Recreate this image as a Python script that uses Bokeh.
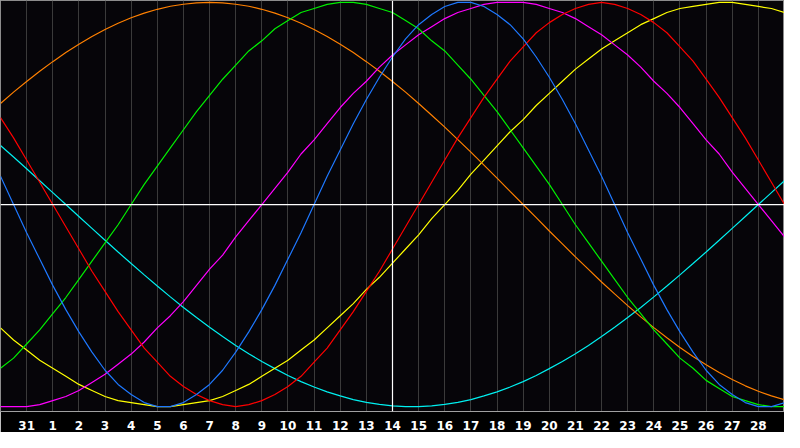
import numpy as np
from bokeh.plotting import figure
from bokeh.models import Span, FixedTicker
from bokeh.embed import file_html
from bokeh.resources import INLINE

# day positions (half-day steps from the left edge, day index 0 = the 30th of the previous month)
days = np.arange(0, 30.5, 0.5)

# tick positions and labels (one tick per day, index 1..29)
tick_pos = list(range(1, 30))
tick_labels = ["31"] + [str(d) for d in range(1, 29)]

# series values (-1 .. 1)
blue = [.14,0,-.14,-.27,-.4,-.52,-.63,-.73,-.82,-.89,-.94,-.98,-1,-1,-.98,-.94,-.89,-.82,-.73,-.63,-.52,-.4,-.27,-.14,0,.14,.27,.4,.52,.63,.73,.82,.89,.94,.98,1,
        1,.98,.94,.89,.82,.73,.63,.52,.4,.27,.14,0,-.14,-.27,-.4,-.52,-.63,-.73,-.82,-.89,-.94,-.98,-1,-1,-.98]
red = [.43,.33,.22,.11,0,-.11,-.22,-.33,-.43,-.53,-.62,-.71,-.78,-.85,-.9,-.94,-.97,-.99,-1,-.99,-.97,-.94,-.9,-.85,-.78,-.71,-.62,-.53,-.43,-.33,-.22,-.11,0,.11,.22,.33,.43,.53,.62,.71,.78,.85,.9,.94,.97,.99,1,.99,.97,.94,.9,.85,.78,.71,.62,.53,.43,.33,.22,.11,0]
green = [-.81,-.76,-.69,-.62,-.54,-.46,-.37,-.28,-.19,-.1,0,.1,.19,.28,.37,.46,.54,.62,.69,.76,.81,.87,.91,.95,.97,.99,1,1,.99,.97,.95,.91,.87,.81,.76,.69,.62,.54,.46,.37,.28,.19,.1,0,-.1,-.19,-.28,-.37,-.46,-.54,-.62,-.69,-.76,-.81,-.87,-.91,-.95,-.97,-.99,-1,-1]
magenta = [-1,-1,-1,-.99,-.97,-.95,-.92,-.88,-.84,-.79,-.74,-.68,-.61,-.55,-.48,-.4,-.32,-.25,-.16,-.08,0,.08,.16,.25,.32,.4,.48,.55,.61,.68,.74,.79,.84,.88,.92,.95,.97,.99,1,1,1,.99,.97,.95,.92,.88,.84,.79,.74,.68,.61,.55,.48,.4,.32,.25,.16,.08,0,-.08,-.16]
yellow = [-.61,-.67,-.72,-.77,-.81,-.85,-.89,-.92,-.95,-.97,-.98,-.99,-1,-1,-.99,-.98,-.97,-.95,-.92,-.89,-.85,-.81,-.77,-.72,-.67,-.61,-.55,-.49,-.42,-.36,-.29,-.22,-.15,-.07,0,.07,.15,.22,.29,.36,.42,.49,.55,.61,.67,.72,.77,.81,.85,.89,.92,.95,.97,.98,.99,1,1,.99,.98,.97,.95]
orange = [0.5,0.556,0.609,0.659,0.707,0.752,0.793,0.831,0.866,0.897,0.924,0.947,0.966,0.981,0.991,0.998,1,0.998,0.991,0.981,0.966,0.947,0.924,0.897,0.866,0.831,0.793,0.752,0.707,0.659,0.609,0.556,0.5,0.442,0.383,0.321,0.259,0.195,0.131,0.065,0,-0.065,-0.131,-0.195,-0.259,-0.321,-0.383,-0.442,-0.5,-0.556,-0.609,-0.659,-0.707,-0.752,-0.793,-0.831,-0.866,-0.897,-0.924,-0.947,-0.966]
cyan = [0.292,0.235,0.177,0.118,0.059,0,-0.059,-0.118,-0.177,-0.235,-0.292,-0.348,-0.403,-0.457,-0.509,-0.559,-0.607,-0.653,-0.697,-0.738,-0.777,-0.812,-0.846,-0.876,-0.903,-0.927,-0.947,-0.965,-0.979,-0.989,-0.996,-1,-1,-0.996,-0.989,-0.979,-0.965,-0.947,-0.927,-0.903,-0.876,-0.846,-0.812,-0.777,-0.738,-0.697,-0.653,-0.607,-0.559,-0.509,-0.457,-0.403,-0.348,-0.292,-0.235,-0.177,-0.118,-0.059,0,0.059,0.118]

series = [
    (cyan, "#00F0F0"),
    (yellow, "#FFFF00"),
    (orange, "#FF8000"),
    (magenta, "#FF00FF"),
    (green, "#00F000"),
    (red, "#FF0000"),
    (blue, "#1E78FF"),
]

p = figure(width=784, height=432, output_backend="svg", toolbar_location=None,
           x_range=(0, 30), y_range=(-1.024, 1.0095),
           min_border_left=0, min_border_right=0, min_border_top=0, min_border_bottom=19)

p.background_fill_color = "#060509"
p.border_fill_color = "#000000"
p.outline_line_color = "#8c8c8c"
p.outline_line_width = 1

p.yaxis.visible = False
p.ygrid.visible = False

p.xgrid.ticker = FixedTicker(ticks=list(range(0, 31)))
p.xgrid.grid_line_color = "#3a3a3a"
p.xgrid.grid_line_width = 1

xa = p.xaxis[0]
xa.ticker = FixedTicker(ticks=tick_pos)
xa.major_label_overrides = {t: l for t, l in zip(tick_pos, tick_labels)}
xa.major_tick_line_color = None
xa.minor_tick_line_color = None
xa.axis_line_color = "#a0a0a0"
xa.major_label_text_color = "#ffffff"
xa.major_label_text_font = "DejaVu Sans"
xa.major_label_text_font_style = "bold"
xa.major_label_text_font_size = "12px"
xa.major_label_standoff = 3

p.add_layout(Span(location=15, dimension="height", line_color="#ffffff", line_width=1.2))
p.add_layout(Span(location=0, dimension="width", line_color="#ffffff", line_width=1.2))

for vals, col in series:
    p.line(days, vals, line_color=col, line_width=1.2)

open("out.html", "w").write(file_html(p, INLINE))
